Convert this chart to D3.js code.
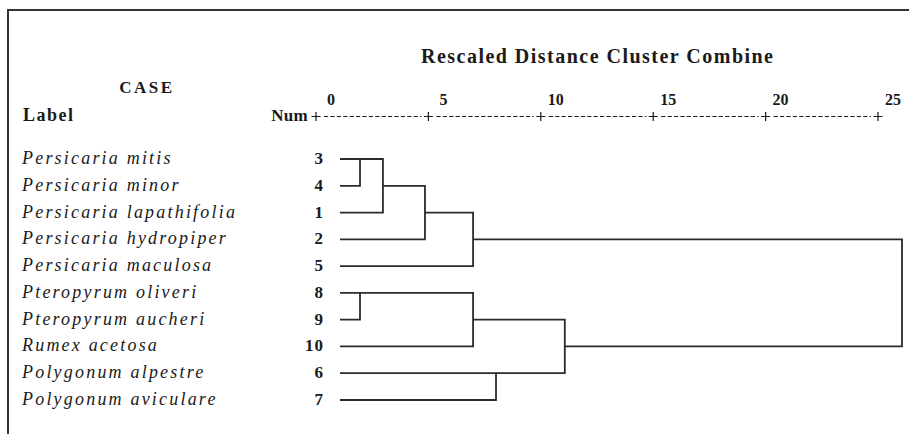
<!DOCTYPE html>
<html><head><meta charset="utf-8">
<script src="https://cdn.jsdelivr.net/npm/d3@7"></script>
<style>body{margin:0;background:#fff;overflow:hidden}</style>
</head><body>
<svg id="c" width="909" height="434"></svg>
<script>
// ---- data ----
const caseLabels = ["Persicaria mitis","Persicaria minor","Persicaria lapathifolia","Persicaria hydropiper","Persicaria maculosa","Pteropyrum oliveri","Pteropyrum aucheri","Rumex acetosa","Polygonum alpestre","Polygonum aviculare"];
const caseNums = ["3","4","1","2","5","8","9","10","6","7"];
const tickValues = [0,5,10,15,20,25];
// merge steps: child A, child B (case number or "c"+step index), rescaled distance
const mergeA = ["3","c0","c1","c2","8","c4","6","c5","c3"];
const mergeB = ["4","1","2","5","9","10","7","c6","c7"];
const mergeDist = [0.89,1.91,3.78,5.92,0.89,5.92,6.94,10.0,25];

// ---- drawing ----
const svg = d3.select("#c");
const serif = "'Liberation Serif','Times New Roman',serif";
const ink = "#1a1a1a";

// frame
svg.append("path").attr("d","M8,434V10H909").attr("fill","none").attr("stroke","#333").attr("stroke-width",2);

const x = d3.scaleLinear().domain([0,25]).range([340,902]);
const y = d3.scalePoint().domain(caseNums).range([159,400]);

// title
svg.append("text").attr("x",421).attr("y",63).attr("textLength",352).attr("lengthAdjust","spacing")
  .attr("font-family",serif).attr("font-weight","bold").attr("font-size",20).attr("fill",ink)
  .text("Rescaled Distance Cluster Combine");
svg.append("text").attr("x",147).attr("y",93).attr("text-anchor","middle")
  .attr("font-family",serif).attr("font-weight","bold").attr("font-size",17).attr("letter-spacing",2.5).attr("fill",ink)
  .text("CASE");
svg.append("text").attr("x",23).attr("y",121)
  .attr("font-family",serif).attr("font-weight","bold").attr("font-size",18).attr("letter-spacing",1.5).attr("fill",ink)
  .text("Label");
svg.append("text").attr("x",308).attr("y",121).attr("text-anchor","end")
  .attr("font-family",serif).attr("font-weight","bold").attr("font-size",17).attr("letter-spacing",0.3).attr("fill",ink)
  .text("Num");

// axis: plus signs, dashed segments, numeric labels
const axisG = svg.append("g");
const px = d=>x(d)-24, py = 116.5;
axisG.selectAll("path.plus").data(tickValues).join("path").attr("class","plus")
  .attr("d",d=>`M${px(d)-4.5},${py}H${px(d)+4.5}M${px(d)},${py-4.5}V${py+4.5}`)
  .attr("stroke",ink).attr("stroke-width",1.2).attr("fill","none");
axisG.selectAll("line.dash").data(d3.pairs(tickValues)).join("line").attr("class","dash")
  .attr("x1",d=>px(d[0])+8).attr("x2",d=>px(d[1])-7).attr("y1",py).attr("y2",py)
  .attr("stroke",ink).attr("stroke-width",1.1).attr("stroke-dasharray","4.2,2.2");
axisG.selectAll("text.tl").data(tickValues).join("text").attr("class","tl")
  .attr("x",d=>x(d)-9).attr("y",105).attr("text-anchor","middle")
  .attr("font-family",serif).attr("font-weight","bold").attr("font-size",16).attr("fill",ink).text(d=>d);

// case labels and numbers
svg.selectAll("text.lab").data(caseNums).join("text").attr("class","lab")
  .attr("x",22).attr("y",d=>y(d)+5)
  .attr("font-family",serif).attr("font-style","italic").attr("font-size",18).attr("letter-spacing",2.2).attr("fill",ink)
  .text((d,i)=>caseLabels[i]);
svg.selectAll("text.num").data(caseNums).join("text").attr("class","num")
  .attr("x",324).attr("y",d=>y(d)+5).attr("text-anchor","end")
  .attr("font-family",serif).attr("font-weight","bold").attr("font-size",17).attr("letter-spacing",1).attr("fill",ink)
  .text(d=>d);

// dendrogram
const nodes = {};
caseNums.forEach(c=>nodes[c]={d:0,y:y(c),leaf:true});
const links = [];
mergeDist.forEach((dist,i)=>{
  const a = nodes[mergeA[i]], b = nodes[mergeB[i]];
  const ny = (a.leaf && b.leaf) ? a.y : (a.y+b.y)/2;
  links.push({a,b,dist});
  nodes["c"+i] = {d:dist,y:ny,leaf:false};
});
svg.append("g").selectAll("path").data(links).join("path")
  .attr("d",l=>`M${x(l.a.d)},${l.a.y}H${x(l.dist)}V${l.b.y}H${x(l.b.d)}`)
  .attr("fill","none").attr("stroke","#2b2b2b").attr("stroke-width",1.8);
</script>
</body></html>
